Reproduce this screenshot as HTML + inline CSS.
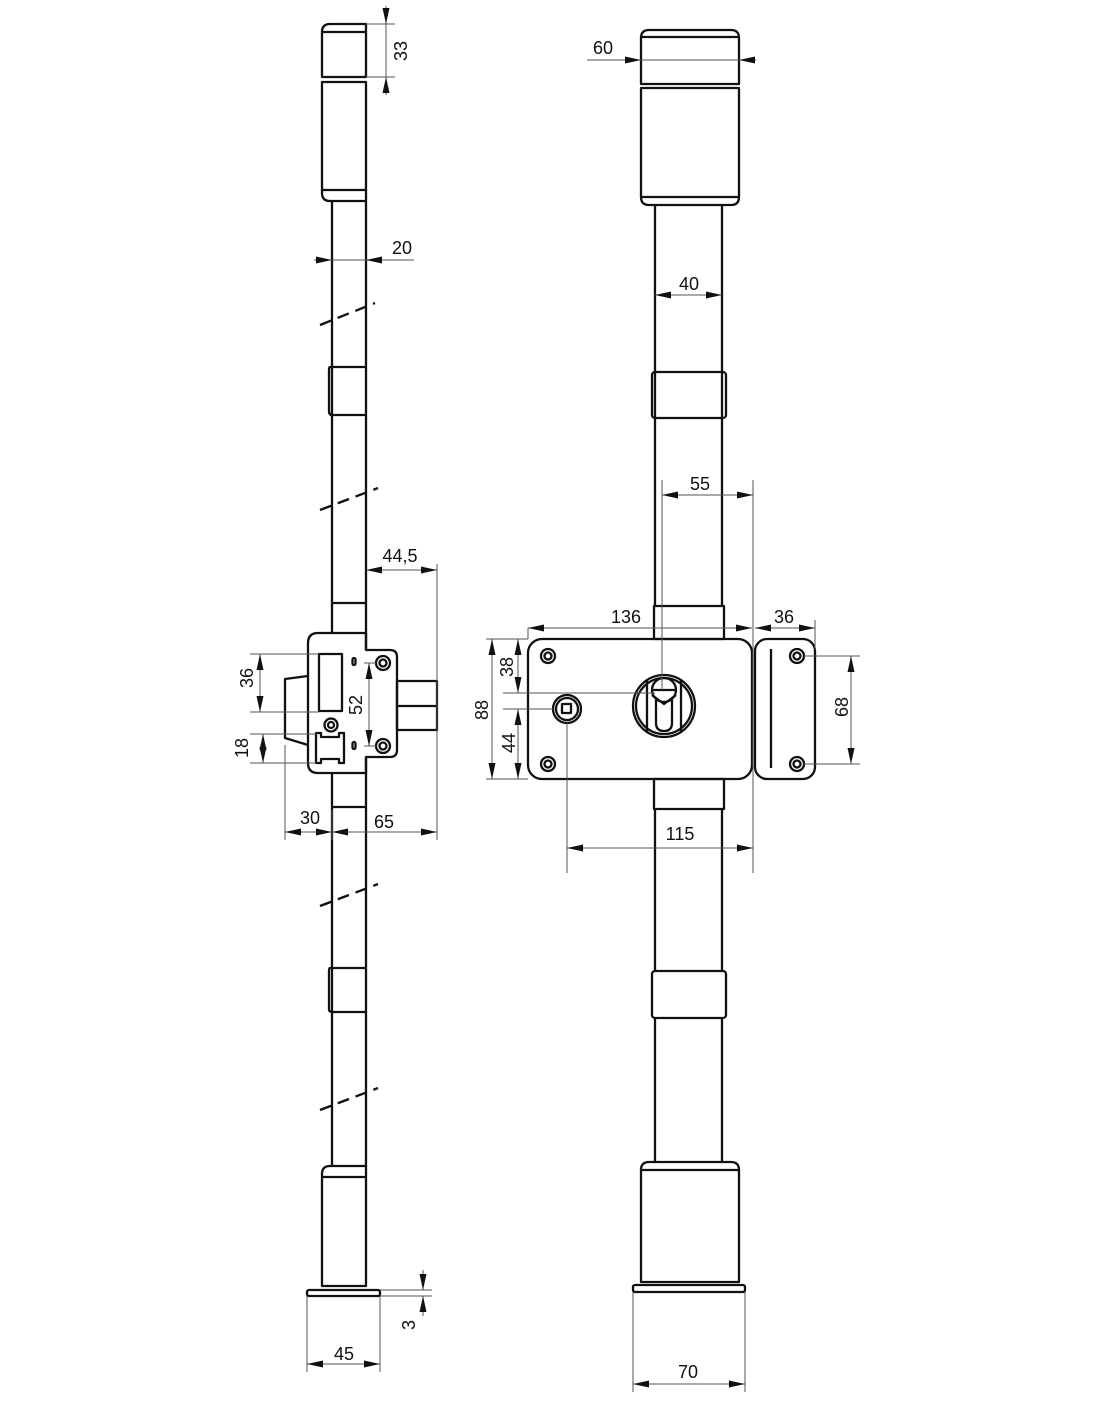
<!DOCTYPE html>
<html><head><meta charset="utf-8"><style>
html,body{margin:0;padding:0;background:#fff;}
svg{display:block;}
.t{font-family:"Liberation Sans",sans-serif;font-size:18px;fill:#111;}
</style></head><body>
<svg width="1100" height="1422" viewBox="0 0 1100 1422" xmlns="http://www.w3.org/2000/svg">
<defs>
<marker id="a" viewBox="0 0 16 7" refX="16" refY="3.5" markerWidth="16" markerHeight="7" orient="auto-start-reverse" markerUnits="userSpaceOnUse"><path d="M0,0 L16,3.5 L0,7 z" fill="#111"/></marker>
</defs>
<g fill="none" stroke="#111" stroke-width="2.3" stroke-linejoin="round">
<path d="M322,77 V32 Q322,24 330,24 H366 V77 Z"/><line x1="322" y1="32" x2="366" y2="32"/>
<path d="M322,82 H366 V201 H330 Q322,201 322,193 Z"/><line x1="322" y1="190" x2="366" y2="190"/>
<line x1="332" y1="201" x2="332" y2="603"/><line x1="366" y1="201" x2="366" y2="650"/>
<path d="M332,367 H330 Q329,367 329,370 V411 Q329,415 332,415 H366"/><line x1="332" y1="367" x2="366" y2="367"/>
<line x1="332" y1="603" x2="366" y2="603"/><line x1="332" y1="603" x2="332" y2="633"/>
<path d="M318,633 H366 V650 H390 Q397,650 397,657 V750 Q397,757 390,757 H366 V773 H318 Q308,773 308,763 V643 Q308,633 318,633 Z"/>
<rect x="319" y="654" width="23" height="57"/>
<circle cx="331" cy="725" r="6.5"/><circle cx="331" cy="725" r="3"/>
<path d="M316,733 H321 V737 H339 V733 H344 V763 H339 V759 H321 V763 H316 Z"/>
<rect x="352.5" y="658" width="3" height="7" rx="1.5"/><rect x="352.5" y="742" width="3" height="7" rx="1.5"/>
<circle cx="383" cy="663" r="7"/><circle cx="383" cy="663" r="3.5"/>
<circle cx="383" cy="746" r="7"/><circle cx="383" cy="746" r="3.5"/>
<rect x="397" y="681" width="40" height="49"/><line x1="397" y1="706" x2="437" y2="706"/>
<path d="M308,676 L285,679 V738 L308,745"/>
<line x1="332" y1="773" x2="332" y2="1166"/><line x1="366" y1="757" x2="366" y2="1166"/>
<line x1="332" y1="807" x2="366" y2="807"/>
<path d="M332,968 H330 Q329,968 329,971 V1009 Q329,1012 332,1012 H366"/><line x1="332" y1="968" x2="366" y2="968"/>
<path d="M332,1166 H330 Q322,1166 322,1174 V1286 H366 V1166 Z"/><line x1="322" y1="1177" x2="366" y2="1177"/>
<rect x="307" y="1290" width="73" height="6" rx="2"/>
<path d="M641,84 V38 Q641,30 649,30 H731 Q739,30 739,38 V84 Z"/><line x1="641" y1="37" x2="739" y2="37"/>
<path d="M641,88 H739 V197 Q739,205 731,205 H649 Q641,205 641,197 Z"/><line x1="641" y1="197" x2="739" y2="197"/>
<line x1="655" y1="205" x2="655" y2="606"/><line x1="722" y1="205" x2="722" y2="606"/>
<rect x="652" y="372" width="74" height="46" rx="3"/>
<rect x="654" y="606" width="70" height="33"/>
<rect x="528" y="639" width="224" height="140" rx="14"/>
<circle cx="548" cy="656" r="7"/><circle cx="548" cy="656" r="3.5"/>
<circle cx="548" cy="764" r="7"/><circle cx="548" cy="764" r="3.5"/>
<circle cx="567" cy="709" r="14"/><circle cx="567" cy="709" r="11"/><rect x="562" y="704" width="9" height="9"/>
<circle cx="664" cy="706" r="31"/><circle cx="664" cy="706" r="28"/>
<path d="M647,680 V733 M681,680 V733"/>
<circle cx="664" cy="690" r="12"/><line x1="652" y1="690" x2="676" y2="690"/>
<path d="M652,695 L664,704 L676,695 M656,700 V723 Q656,731 664,731 Q672,731 672,723 V700"/>
<rect x="755" y="639" width="60" height="140" rx="12"/>
<line x1="771" y1="649" x2="771" y2="768"/>
<circle cx="797" cy="656" r="7"/><circle cx="797" cy="656" r="3.5"/>
<circle cx="797" cy="764" r="7"/><circle cx="797" cy="764" r="3.5"/>
<rect x="654" y="779" width="70" height="30"/>
<line x1="655" y1="809" x2="655" y2="971"/><line x1="722" y1="809" x2="722" y2="971"/>
<rect x="652" y="971" width="74" height="47" rx="3"/>
<line x1="655" y1="1018" x2="655" y2="1162"/><line x1="722" y1="1018" x2="722" y2="1162"/>
<path d="M641,1282 V1170 Q641,1162 649,1162 H731 Q739,1162 739,1170 V1282 Z"/><line x1="641" y1="1170" x2="739" y2="1170"/>
<rect x="633" y="1285" width="112" height="7" rx="2"/>
</g>
<g stroke="#111" stroke-width="2.3" stroke-dasharray="12,7">
<line x1="320" y1="325" x2="375" y2="303"/>
<line x1="320" y1="510" x2="378" y2="488"/>
<line x1="320" y1="906" x2="378" y2="884"/>
<line x1="320" y1="1110" x2="378" y2="1088"/>
</g>
<g fill="none" stroke="#555" stroke-width="1">
<line x1="366" y1="24" x2="395" y2="24"/><line x1="366" y1="77" x2="395" y2="77"/>
<line x1="386" y1="6" x2="386" y2="24" marker-end="url(#a)"/><line x1="386" y1="24" x2="386" y2="77"/><line x1="386" y1="95" x2="386" y2="77" marker-end="url(#a)"/>
<line x1="314" y1="260" x2="332" y2="260" marker-end="url(#a)"/><line x1="332" y1="260" x2="366" y2="260"/><line x1="414" y1="260" x2="366" y2="260" marker-end="url(#a)"/>
<line x1="437" y1="564" x2="437" y2="840"/>
<line x1="366" y1="570" x2="437" y2="570" marker-start="url(#a)" marker-end="url(#a)"/>
<line x1="250" y1="654" x2="319" y2="654"/><line x1="250" y1="712" x2="319" y2="712"/>
<line x1="260" y1="654" x2="260" y2="712" marker-start="url(#a)" marker-end="url(#a)"/>
<line x1="250" y1="734" x2="316" y2="734"/><line x1="250" y1="763" x2="316" y2="763"/>
<line x1="263" y1="734" x2="263" y2="763" marker-start="url(#a)" marker-end="url(#a)"/>
<line x1="364" y1="663" x2="376" y2="663"/><line x1="364" y1="746" x2="376" y2="746"/>
<line x1="369" y1="663" x2="369" y2="746" marker-start="url(#a)" marker-end="url(#a)"/>
<line x1="285" y1="745" x2="285" y2="840"/><line x1="332" y1="810" x2="332" y2="840"/>
<line x1="285" y1="832" x2="332" y2="832" marker-start="url(#a)" marker-end="url(#a)"/>
<line x1="332" y1="832" x2="437" y2="832" marker-start="url(#a)" marker-end="url(#a)"/>
<line x1="380" y1="1290" x2="432" y2="1290"/><line x1="380" y1="1296" x2="432" y2="1296"/>
<line x1="423" y1="1270" x2="423" y2="1290" marker-end="url(#a)"/><line x1="423" y1="1316" x2="423" y2="1296" marker-end="url(#a)"/>
<line x1="307" y1="1296" x2="307" y2="1372"/><line x1="380" y1="1296" x2="380" y2="1372"/>
<line x1="307" y1="1364" x2="380" y2="1364" marker-start="url(#a)" marker-end="url(#a)"/>
<line x1="587" y1="60" x2="641" y2="60" marker-end="url(#a)"/><line x1="641" y1="60" x2="739" y2="60"/><line x1="756" y1="60" x2="739" y2="60" marker-end="url(#a)"/>
<line x1="655" y1="295" x2="722" y2="295" marker-start="url(#a)" marker-end="url(#a)"/>
<line x1="662" y1="480" x2="662" y2="690"/><line x1="753" y1="480" x2="753" y2="873"/>
<line x1="662" y1="495" x2="753" y2="495" marker-start="url(#a)" marker-end="url(#a)"/>
<line x1="528" y1="628" x2="528" y2="639"/>
<line x1="528" y1="628" x2="752" y2="628" marker-start="url(#a)" marker-end="url(#a)"/>
<line x1="755" y1="628" x2="815" y2="628" marker-start="url(#a)" marker-end="url(#a)"/><line x1="815" y1="620" x2="815" y2="650"/>
<line x1="486" y1="639" x2="528" y2="639"/><line x1="486" y1="779" x2="528" y2="779"/>
<line x1="492" y1="639" x2="492" y2="779" marker-start="url(#a)" marker-end="url(#a)"/>
<line x1="503" y1="693" x2="655" y2="693"/><line x1="503" y1="709" x2="553" y2="709"/>
<line x1="518" y1="639" x2="518" y2="693" marker-start="url(#a)" marker-end="url(#a)"/>
<line x1="518" y1="709" x2="518" y2="779" marker-start="url(#a)" marker-end="url(#a)"/>
<line x1="804" y1="656" x2="860" y2="656"/><line x1="804" y1="764" x2="860" y2="764"/>
<line x1="851" y1="656" x2="851" y2="764" marker-start="url(#a)" marker-end="url(#a)"/>
<line x1="567" y1="723" x2="567" y2="873"/>
<line x1="567" y1="848" x2="753" y2="848" marker-start="url(#a)" marker-end="url(#a)"/>
<line x1="633" y1="1292" x2="633" y2="1392"/><line x1="745" y1="1292" x2="745" y2="1392"/>
<line x1="633" y1="1384" x2="745" y2="1384" marker-start="url(#a)" marker-end="url(#a)"/>
</g>
<g class="t">
<text transform="translate(407,51) rotate(-90)" text-anchor="middle">33</text>
<text x="402" y="254" text-anchor="middle">20</text>
<text x="400" y="562" text-anchor="middle">44,5</text>
<text transform="translate(253,678) rotate(-90)" text-anchor="middle">36</text>
<text transform="translate(362,705) rotate(-90)" text-anchor="middle">52</text>
<text transform="translate(248,748) rotate(-90)" text-anchor="middle">18</text>
<text x="310" y="824" text-anchor="middle">30</text>
<text x="384" y="828" text-anchor="middle">65</text>
<text transform="translate(415,1325) rotate(-90)" text-anchor="middle">3</text>
<text x="344" y="1360" text-anchor="middle">45</text>
<text x="603" y="54" text-anchor="middle">60</text>
<text x="689" y="290" text-anchor="middle">40</text>
<text x="700" y="490" text-anchor="middle">55</text>
<text x="626" y="623" text-anchor="middle">136</text>
<text x="784" y="623" text-anchor="middle">36</text>
<text transform="translate(513,667) rotate(-90)" text-anchor="middle">38</text>
<text transform="translate(488,710) rotate(-90)" text-anchor="middle">88</text>
<text transform="translate(515,743) rotate(-90)" text-anchor="middle">44</text>
<text transform="translate(848,707) rotate(-90)" text-anchor="middle">68</text>
<text x="680" y="840" text-anchor="middle">115</text>
<text x="688" y="1378" text-anchor="middle">70</text>
</g>
</svg>
</body></html>
